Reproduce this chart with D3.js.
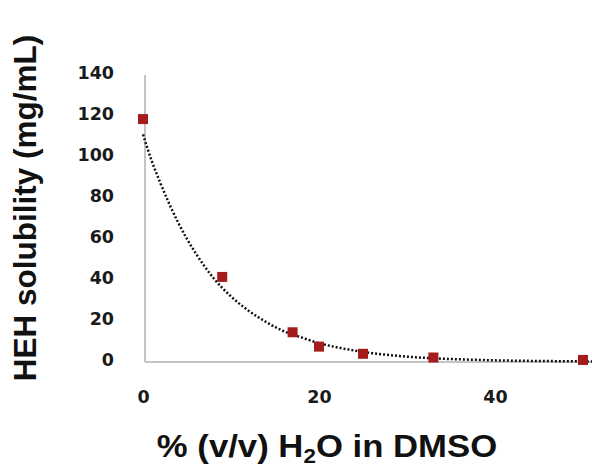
<!DOCTYPE html>
<html>
<head>
<script src="https://d3js.org/d3.v7.min.js"></script>
<style>
  body { margin: 0; background: white; }
  .tick text { font-family: "DejaVu Sans", sans-serif; font-weight: bold; }
</style>
</head>
<body>
<svg id="MainSVG" width="592" height="470"></svg>
<script>
// measured points
var waterPct = [0, 9, 17, 20, 25, 33, 50];
var solubility = [118.5, 41.5, 14.5, 7.5, 4, 2.2, 1];

// dotted trend line
var trendX = [0, 1, 2, 3, 4, 5, 6, 8, 10, 12, 14, 16, 18, 20, 22, 24, 26, 28, 30, 33, 36, 40, 45, 50, 52];
var trendY = [111, 98, 87, 77, 68, 60, 53, 41, 32, 25, 19.5, 15, 12, 9.2, 7.2, 5.6, 4.3, 3.4, 2.6, 1.8, 1.3, 0.8, 0.5, 0.3, 0.2];

var yTicks = [0, 20, 40, 60, 80, 100, 120, 140];
var xTicks = [0, 20, 40];

var svg = d3.select("#MainSVG");

var xs = d3.scaleLinear().domain([0, 20]).range([143, 319]);
var ys = d3.scaleLinear().domain([0, 140]).range([362, 75]);

// axis lines
svg.append("line")
  .attr("x1", xs(0) + 2).attr("x2", xs(0) + 2)
  .attr("y1", ys(140)).attr("y2", ys(0))
  .attr("stroke", "#c4c4c4").attr("stroke-width", 2);
svg.append("line")
  .attr("x1", xs(0) + 2).attr("x2", 592)
  .attr("y1", ys(0)).attr("y2", ys(0))
  .attr("stroke", "#c4c4c4").attr("stroke-width", 2);

// tick labels
var yAxis = svg.append("g")
  .attr("transform", "translate(" + (xs(0) - 29) + ",-2)")
  .call(d3.axisLeft(ys).tickValues(yTicks).tickSize(0).tickPadding(0));
yAxis.select(".domain").remove();
yAxis.selectAll("text").attr("font-size", 17.5).attr("fill", "#1a1a1a");

var xAxis = svg.append("g")
  .attr("transform", "translate(0," + (ys(0) + 29) + ")")
  .call(d3.axisBottom(xs).tickValues(xTicks).tickSize(0).tickPadding(0));
xAxis.select(".domain").remove();
xAxis.selectAll("text").attr("font-size", 17.5).attr("fill", "#1a1a1a");

// trend line
var line = d3.line()
  .x(function(d, i) { return xs(trendX[i]); })
  .y(function(d) { return ys(d); })
  .curve(d3.curveMonotoneX);
svg.append("path")
  .datum(trendY)
  .attr("d", line)
  .attr("fill", "none")
  .attr("stroke", "#111")
  .attr("stroke-width", 2.5)
  .attr("stroke-dasharray", "2,2");

// markers
svg.selectAll(".pt")
  .data(solubility)
  .enter().append("rect")
  .attr("class", "pt")
  .attr("x", function(d, i) { return xs(waterPct[i]) - 5; })
  .attr("y", function(d) { return ys(d) - 5; })
  .attr("width", 10)
  .attr("height", 10)
  .attr("fill", "#a51c1c");

// axis titles
var xt = svg.append("text")
  .attr("transform", "translate(327,457) scale(1.12,1)")
  .attr("text-anchor", "middle")
  .attr("font-family", "'Liberation Sans', Arial, sans-serif")
  .attr("font-weight", "bold")
  .attr("font-size", 31)
  .attr("fill", "#111");
xt.append("tspan").text("% (v/v) H");
xt.append("tspan").text("2").attr("font-size", 20).attr("dy", 6);
xt.append("tspan").text("O in DMSO").attr("dy", -6);

svg.append("text")
  .attr("transform", "translate(36,208) rotate(-90)")
  .attr("text-anchor", "middle")
  .attr("font-family", "'Liberation Sans', Arial, sans-serif")
  .attr("font-weight", "bold")
  .attr("font-size", 31.5)
  .attr("fill", "#111")
  .text("HEH solubility (mg/mL)");
</script>
</body>
</html>
